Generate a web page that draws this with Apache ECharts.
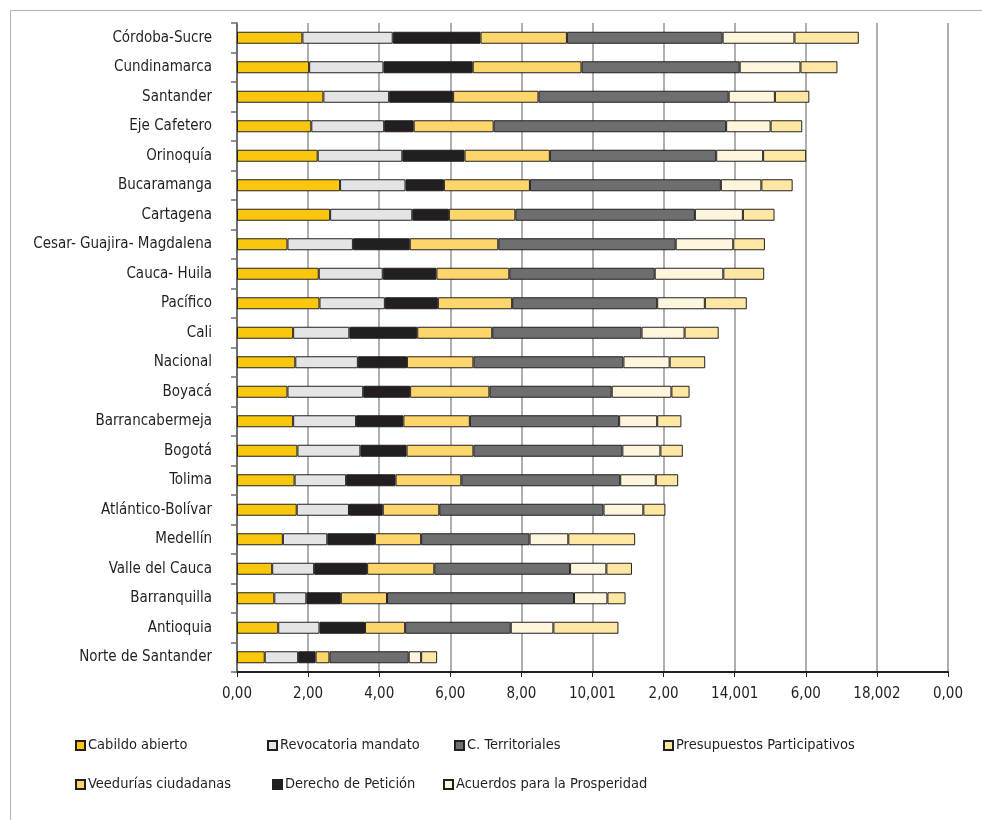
<!DOCTYPE html>
<html>
<head>
<meta charset="utf-8">
<script src="https://cdn.jsdelivr.net/npm/echarts@6/dist/echarts.min.js"></script>
<style>
html,body{margin:0;padding:0;background:#fff;}
#chart{width:982px;height:820px;}
</style>
</head>
<body>
<div id="chart"></div>
<script>
const categories = ["Córdoba-Sucre","Cundinamarca","Santander","Eje Cafetero","Orinoquía","Bucaramanga","Cartagena","Cesar- Guajira- Magdalena","Cauca- Huila","Pacífico","Cali","Nacional","Boyacá","Barrancabermeja","Bogotá","Tolima","Atlántico-Bolívar","Medellín","Valle del Cauca","Barranquilla","Antioquia","Norte de Santander"];

const cabildoAbierto = [1.84,2.03,2.43,2.09,2.27,2.90,2.62,1.42,2.30,2.32,1.58,1.64,1.42,1.58,1.70,1.62,1.68,1.29,0.99,1.05,1.16,0.78];
const revocatoriaMandato = [2.54,2.09,1.85,2.05,2.38,1.84,2.31,1.84,1.80,1.84,1.58,1.76,2.13,1.77,1.77,1.45,1.47,1.25,1.18,0.90,1.16,0.94];
const derechoPeticion = [2.47,2.51,1.80,0.83,1.75,1.08,1.03,1.60,1.51,1.49,1.91,1.38,1.32,1.33,1.30,1.39,0.95,1.34,1.49,0.97,1.28,0.49];
const veeduriasCiudadanas = [2.43,3.06,2.40,2.25,2.40,2.42,1.87,2.49,2.05,2.09,2.11,1.87,2.23,1.87,1.88,1.85,1.59,1.30,1.89,1.30,1.13,0.39];
const cTerritoriales = [4.38,4.45,5.35,6.54,4.68,5.37,5.05,4.99,4.09,4.08,4.20,4.22,3.44,4.20,4.19,4.47,4.62,3.05,3.82,5.26,2.97,2.23];
const acuerdosProsperidad = [2.02,1.71,1.30,1.25,1.32,1.14,1.35,1.62,1.93,1.34,1.21,1.30,1.68,1.07,1.07,1.00,1.12,1.09,1.02,0.94,1.20,0.35];
const presupuestosParticipativos = [1.81,1.04,0.97,0.89,1.21,0.88,0.89,0.89,1.15,1.18,0.96,1.00,0.51,0.68,0.63,0.63,0.62,1.88,0.72,0.51,1.83,0.45];

const tickLabels = ["0,00","2,00","4,00","6,00","8,00","10,001","2,00","14,001","6,00","18,002","0,00"];

const FONT = "'DejaVu Sans Condensed','Liberation Sans Narrow',sans-serif";
const TEXT = '#231F20';

const seriesDefs = [
  {name:'Cabildo abierto', data:cabildoAbierto, color:'#F9C80E'},
  {name:'Revocatoria mandato', data:revocatoriaMandato, color:'#E3E4E5'},
  {name:'Derecho de Petición', data:derechoPeticion, color:'#231F20'},
  {name:'Veedurías ciudadanas', data:veeduriasCiudadanas, color:'#FDD66B'},
  {name:'C. Territoriales', data:cTerritoriales, color:'#6D6E70'},
  {name:'Acuerdos para la Prosperidad', data:acuerdosProsperidad, color:'#FEF5DD'},
  {name:'Presupuestos Participativos', data:presupuestosParticipativos, color:'#FDE7A3'}
];

const legendPos = {
  'Cabildo abierto':[75,738],
  'Revocatoria mandato':[267,738],
  'C. Territoriales':[454,738],
  'Presupuestos Participativos':[663,738],
  'Veedurías ciudadanas':[75,777],
  'Derecho de Petición':[272,777],
  'Acuerdos para la Prosperidad':[443,777]
};

const chart = echarts.init(document.getElementById('chart'), null, {renderer:'canvas'});

const option = {
  backgroundColor:'#ffffff',
  animation:false,
  textStyle:{fontFamily:FONT},
  grid:{left:237, right:34, top:23, bottom:148, containLabel:false},
  xAxis:{
    type:'value', min:0, max:20, interval:2,
    axisLine:{show:true, lineStyle:{color:'#231F20', width:2}},
    axisTick:{show:true, length:5, lineStyle:{color:'#231F20', width:1}},
    axisLabel:{
      color:TEXT, fontSize:15, fontFamily:FONT, margin:15,
      formatter:function(v){ return tickLabels[Math.round(v/2)]; }
    },
    splitLine:{show:true, lineStyle:{color:'#929497', width:1.5}}
  },
  yAxis:{
    type:'category', data:categories, inverse:true,
    axisLine:{show:true, lineStyle:{color:'#58595B', width:1.5}},
    axisTick:{show:true, length:6, alignWithLabel:false, lineStyle:{color:'#6D6E70', width:1.5}},
    axisLabel:{color:TEXT, fontSize:15, fontFamily:FONT, margin:25}
  },
  legend: seriesDefs.map(s=>({
    data:[{name:s.name, icon:'rect'}],
    left:legendPos[s.name][0], top:legendPos[s.name][1],
    padding:0,
    itemWidth:9, itemHeight:9, itemGap:4,
    textStyle:{color:TEXT, fontSize:14.5, fontFamily:FONT, padding:[0,0,0,-2]},
    selectedMode:false
  })),
  series: seriesDefs.map(s=>({
    name:s.name, type:'bar', stack:'total', data:s.data,
    barWidth:12,
    itemStyle:{color:s.color, borderColor:'#231F20', borderWidth:1},
    emphasis:{disabled:true}
  })),
  graphic:[
    {type:'line', shape:{x1:10.5,y1:10.5,x2:10.5,y2:820}, style:{stroke:'#B0B1B3', lineWidth:1}},
    {type:'line', shape:{x1:10.5,y1:10.5,x2:982,y2:10.5}, style:{stroke:'#B0B1B3', lineWidth:1}}
  ]
};
chart.setOption(option);
</script>
</body>
</html>
